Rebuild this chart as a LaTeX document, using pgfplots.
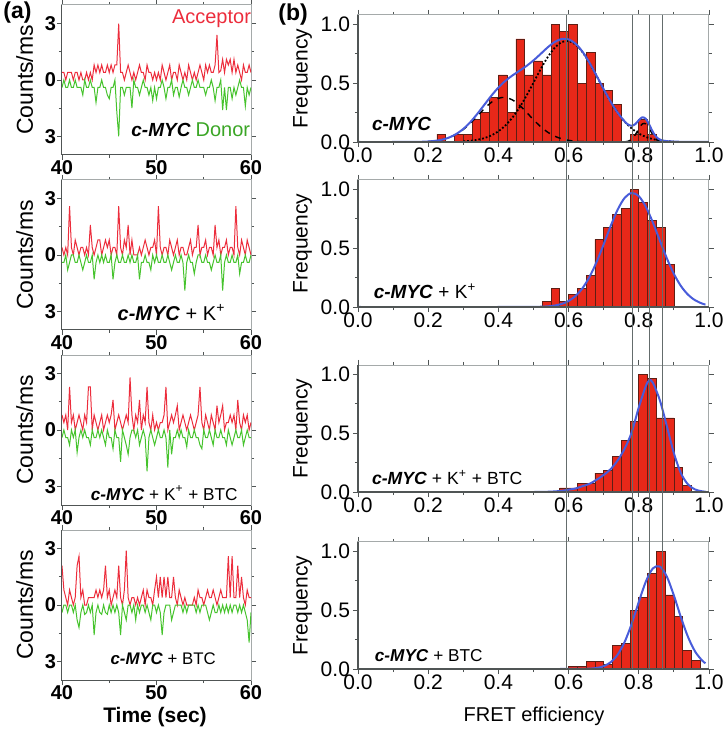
\documentclass[border=0pt]{standalone}
\usepackage{fontspec}
\setmainfont{Liberation Sans}
\usepackage{pgfplots}
\usepackage{pgfplotstable}
\pgfplotsset{compat=1.18}

\definecolor{accred}{RGB}{236,45,60}
\definecolor{dongreen}{RGB}{70,195,45}
\definecolor{barred}{RGB}{232,40,25}
\definecolor{baredge}{RGB}{95,30,20}
\definecolor{fitblue}{RGB}{72,92,218}
\definecolor{vline}{RGB}{100,108,108}
\definecolor{frame}{RGB}{165,170,170}
\definecolor{darkframe}{RGB}{80,85,85}

% time traces: a = acceptor, d = donor (counts/ms), one row every 0.2 s from 40 s
\pgfplotstableread[row sep=\\]{
a d\\
0.4 0.4\\ 0.4 0\\ 0 0.4\\ 0.4 0.4\\ 0.4 0\\ 0.4 0.4\\ 0 0.4\\ 0.4 0\\ 0.4 0.4\\ 0 0.4\\
0.4 0.4\\ 0 0.8\\ 0 0\\ 0.4 0.4\\ 0 0.4\\ 0.4 0\\ 0 0.4\\ 0.8 0.4\\ 0.4 1.2\\ 0.8 0.4\\
0.4 0.4\\ 0.8 0\\ 0.4 0.4\\ 0.4 0.4\\ 0.8 0.8\\ 0.4 1.0\\ 0.8 0.4\\ 0.4 0.4\\ 0.8 0\\ 0.8 1.7\\
3.0 3.0\\ 0.4 0.4\\ 0.4 0.4\\ 0 0.8\\ 0.4 0.4\\ 0.8 0.4\\ 0.4 0.4\\ 0 1.5\\ 0.4 0\\ 0 0.4\\
0.4 0.4\\ 0.8 0.8\\ 0.4 0.4\\ 0.4 0\\ 0 0.4\\ 0.8 0.4\\ 0.4 0.8\\ 0.4 0.4\\ 0 1.1\\ 0.4 0.4\\
0 1.0\\ 0.4 0.4\\ 0 0.4\\ 0.8 0\\ 0.4 0.4\\ 0 1.0\\ 0.4 0.4\\ 0.8 0.4\\ 0 0\\ 0.4 0.8\\
0.4 0.4\\ 0 0.4\\ 0.8 0.9\\ 0.4 0.4\\ 0 0\\ 0.4 0.4\\ 0 0.4\\ 0.8 0.8\\ 0.4 0.4\\ 0 0\\
0.4 0.4\\ 0 0.4\\ 0.4 0\\ 0.8 0.4\\ 0.4 0.4\\ 0 0.4\\ 0.8 0.8\\ 0.4 0.4\\ 0.8 0.4\\ 0.4 0\\
0.4 0.4\\ 0.8 1.1\\ 2.4 0.4\\ 0.4 0.4\\ 0.5 0\\ 1.1 1.6\\ 0.4 0.4\\ 1.1 1.6\\ 0.8 0.4\\ 1.1 0.4\\
0.4 1.0\\ 1.1 0.4\\ 0.4 0.8\\ 0.8 0.4\\ 0.4 0\\ 0 0.4\\ 0.8 0.4\\ 0.4 1.4\\ 0.4 0.4\\ 0.8 0.8\\ 0.4 0.4\\
}\trA

\pgfplotstableread[row sep=\\]{
a d\\
0.4 0.4\\ 0 0.4\\ 0.4 0\\ 0 0.8\\ 2.6 0.4\\ 0.4 0\\ 0 0\\ 0.8 0.4\\ 0.4 0.4\\ 0 0\\
0.4 0.4\\ 0.4 0.8\\ 0 0.4\\ 0.4 0\\ 0 0.4\\ 1.6 0.4\\ 0.4 0\\ 0 1.3\\ 0.4 0.4\\ 0.8 0\\
0.8 0.4\\ 0 0\\ 0.4 0.4\\ 0.8 0\\ 0.4 0.4\\ 0.8 0.4\\ 0 0\\ 0.4 1.3\\ 0.4 0.4\\ 0 0\\
2.6 0.4\\ 0.4 0.4\\ 0 0\\ 0.8 0.4\\ 0.4 0.4\\ 1.6 0\\ 0 0.4\\ 0.8 0\\ 0 0.4\\ 0 0.4\\
0 0\\ 0.4 1.3\\ 0 0.4\\ 0.4 0.4\\ 0.8 0\\ 0.4 0.4\\ 0 0.4\\ 0.4 0.8\\ 0.4 0\\ 0.8 0.4\\
0 0\\ 2.6 0.4\\ 0.4 0.4\\ 0 0\\ 0.4 0.4\\ 0.4 0.4\\ 0 0\\ 0.8 0.4\\ 0.4 0.8\\ 0 0.4\\
0.4 0\\ 0.8 0.4\\ 0 0.4\\ 0.4 0\\ 0.4 0.4\\ 0 1.9\\ 0 0.4\\ 0.4 0\\ 0.8 0.4\\ 0 0.4\\
0.4 1.0\\ 0.4 0.4\\ 1.6 0\\ 0 0\\ 0.4 0.4\\ 0.4 0.4\\ 0.8 0\\ 0 0.4\\ 0.4 0.4\\ 0.4 0.8\\
0 0.4\\ 1.6 0\\ 0.4 0.4\\ 0.8 0.4\\ 0 0\\ 0.4 1.9\\ 0.4 0.4\\ 0.8 0\\ 0 0.4\\ 0.4 0.4\\
0.4 0\\ 0 0.4\\ 2.6 0.4\\ 0.4 0\\ 0 1.0\\ 0.8 0.4\\ 0.4 0.4\\ 0 0\\ 0.8 0.4\\ 0.4 0.4\\ 0 0\\
}\trB

\pgfplotstableread[row sep=\\]{
a d\\
0.8 0.4\\ 0.4 0\\ 0.8 0.4\\ 0 0.4\\ 2.3 0.8\\ 0.4 0\\ 0.8 0.4\\ 0 0\\ 0.4 1.2\\ 0.8 0.4\\
0.4 0\\ 0 0.4\\ 0.8 0\\ 0.4 0.4\\ 2.3 0.4\\ 2.3 0.8\\ 0 0\\ 0.8 0.4\\ 0.4 0.4\\ 0 0\\
0.4 0.4\\ 0.8 0\\ 0 0.4\\ 0.4 0.8\\ 0.8 0\\ 0.4 0.4\\ 0.8 0.4\\ 1.6 1.0\\ 0 0\\ 0.4 0.4\\
0.8 0.4\\ 0.4 1.7\\ 0 0\\ 0.4 0.4\\ 0.8 0.8\\ 0.4 1.3\\ 2.8 0.4\\ 0.8 0\\ 0 0\\ 0.8 0.4\\
0.4 0\\ 1.6 0.8\\ 0 0.4\\ 0.8 0\\ 0.4 0.4\\ 2.3 2.2\\ 0.4 0.4\\ 0 0\\ 0.8 0.4\\ 0 0.8\\
0.4 0.4\\ 0 0\\ 0.4 0.4\\ 0.4 0.4\\ 0.8 0\\ 2.3 0.4\\ 0 2.0\\ 0.4 0\\ 0.8 1.3\\ 0.4 0.4\\
0.8 0.4\\ 1.3 0\\ 0 0.4\\ 0.4 0\\ 0.8 0.4\\ 0.4 0.4\\ 0 0.9\\ 0.4 0\\ 0.8 0.4\\ 0.4 0.4\\
0 0\\ 0.4 0.4\\ 0.8 0.4\\ 2.3 0.8\\ 0.4 1.0\\ 0 0\\ 0.8 0.4\\ 0.4 0.4\\ 0 0\\ 0.8 0.4\\
0.4 0.8\\ 0 0\\ 1.3 0.4\\ 0.4 0.4\\ 0.8 0\\ 1.3 0.4\\ 0 0.4\\ 0.4 0.8\\ 0.4 0\\ 0.8 0.4\\
0.4 0.8\\ 0.8 0.4\\ 0 0\\ 1.6 0.4\\ 0.4 0.4\\ 0 0\\ 0.8 0.8\\ 0.4 0.4\\ 0.8 0\\ 0 0.4\\ 0.4 0.4\\
}\trC

\pgfplotstableread[row sep=\\]{
a d\\
2.1 0.4\\ 0.8 0\\ 0.4 0\\ 0 0.4\\ 0.8 0\\ 0.4 0\\ 0 0.4\\ 0.4 0\\ 2.1 0.8\\ 2.6 1.2\\
0.4 0.4\\ 0.8 0\\ 0 0.5\\ 0 0.4\\ 0.4 0\\ 0.4 0.4\\ 0.4 0\\ 0.4 1.6\\ 0.8 0.4\\ 0.4 0\\
0.8 0.4\\ 0.4 0.5\\ 0.8 0\\ 2.1 0.4\\ 0.4 0.5\\ 0.8 0\\ 0 0.4\\ 0.4 0\\ 0.8 0.4\\ 0.4 0\\
2.1 0.4\\ 0.4 1.6\\ 0 0\\ 0.8 0.4\\ 2.9 0.8\\ 0.4 0\\ 0 0\\ 0.4 0.4\\ 0.4 0\\ 0 0.8\\
0.4 0\\ 0 0.4\\ 0.4 0\\ 0.8 0\\ 0 0.4\\ 0.8 0\\ 0.4 0.4\\ 0.4 0.8\\ 0 0\\ 0.8 0\\
1.5 0.4\\ 0.4 0\\ 1.5 0.4\\ 0.4 1.6\\ 1.5 0.4\\ 0.4 0\\ 1.5 0\\ 0.4 0\\ 0.4 0.8\\ 1.5 0.4\\
0.4 0\\ 0 0\\ 0.8 0\\ 0.4 0\\ 0 0.4\\ 0.4 0\\ 0 0.4\\ 0 0\\ 0 0\\ 0 0\\
0.4 0\\ 0 0.4\\ 0.8 0\\ 0.4 0.4\\ 0.4 0\\ 0 0\\ 0.4 0\\ 0.8 0.4\\ 0.4 0.8\\ 0.4 0.4\\
0.8 0\\ 0.4 0.4\\ 0 0.4\\ 0.4 0\\ 0.8 0.4\\ 0.4 0\\ 0.4 0.4\\ 0.4 0\\ 2.6 0.4\\ 0.4 0\\
2.6 0.4\\ 0.4 0\\ 0.4 0\\ 2.1 0.4\\ 0.4 0\\ 1.5 0.4\\ 0.4 0\\ 0 0.4\\ 0.8 0.8\\ 0.4 2.0\\ 0.4 0.4\\
}\trD

\tikzset{lbl/.style={anchor=base west, inner sep=0pt}}

\pgfplotsset{
  trace/.style={
    scale only axis, width=94.5pt, height=75pt,
    xmin=40, xmax=60, ymin=-4, ymax=4,
    xtick={40,50,60}, minor xtick={45,55},
    ytick={-3,0,3}, yticklabels={3,0,3}, minor ytick={-1.5,1.5},
    tick align=outside, major tick length=2.5pt, minor tick length=1.5pt,
    tick style={darkframe, line width=0.4pt},
    axis line style={draw=frame, line width=0.5pt},
    ticklabel style={font=\fontsize{10}{12}\selectfont\bfseries},
    xticklabel style={yshift=3.5pt},
    yticklabel style={xshift=3pt},
    /pgf/number format/assume math mode=true,
    ylabel={Counts/ms},
    ylabel style={at={(axis description cs:-0.198,0.5)}, anchor=center,
      font=\fontsize{11.5}{13}\selectfont},
    clip mode=individual,
  },
  acc/.style={accred, line width=0.5pt},
  don/.style={dongreen, line width=0.5pt},
  hist/.style={
    scale only axis, width=175.5pt, height=63.5pt,
    xmin=0, xmax=1, ymin=0, ymax=1.08,
    xtick={0,0.2,0.4,0.6,0.8,1}, minor xtick={0.1,0.3,0.5,0.7,0.9},
    ytick={0,0.5,1}, minor ytick={0.25,0.75},
    /pgf/number format/fixed, /pgf/number format/fixed zerofill,
    /pgf/number format/precision=1,
    tick align=outside, major tick length=2.5pt, minor tick length=1.5pt,
    tick style={darkframe, line width=0.4pt},
    axis line style={draw=frame, line width=0.5pt},
    ticklabel style={font=\fontsize{10.5}{12}\selectfont},
    xticklabel style={yshift=3pt},
    yticklabel style={xshift=2pt},
    /pgf/number format/assume math mode=true,
    ylabel={Frequency},
    ylabel style={at={(axis description cs:-0.158,0.5)}, anchor=center,
      font=\fontsize{10.5}{12}\selectfont},
    clip mode=individual,
  },
  bars/.style={ybar, bar width=0.025, bar shift=0pt, fill=barred, draw=baredge, line width=0.35pt},
  fit/.style={fitblue, line width=1pt, smooth},
}

\newcommand{\myc}{\textbf{\textit{c-MYC}}}

\begin{document}
\begin{tikzpicture}
\path[use as bounding box] (0pt,0pt) rectangle (362.5pt,365pt);

% ---------------- (a) time traces ----------------
\begin{axis}[trace, at={(31pt,287.5pt)}]
\addplot[acc] table[x expr=40+0.2*\coordindex, y=a]{\trA};
\addplot[don] table[x expr=40+0.2*\coordindex, y expr=-\thisrow{d}]{\trA};
\draw[darkframe, line width=0.5pt] (rel axis cs:0,1) -- (rel axis cs:0,0) -- (rel axis cs:1,0);
\node[lbl, font=\fontsize{10}{12}\selectfont, text=accred] at (axis cs:51.6,3.03) {Acceptor};
\node[lbl, font=\fontsize{10}{12}\selectfont, text=dongreen!85!black] at (axis cs:54.1,-3.0) {Donor};
\node[lbl, font=\fontsize{9.5}{11}\selectfont] at (axis cs:47.3,-3.0) {\myc};
\end{axis}

\begin{axis}[trace, at={(31pt,200pt)}]
\addplot[acc] table[x expr=40+0.2*\coordindex, y=a]{\trB};
\addplot[don] table[x expr=40+0.2*\coordindex, y expr=-\thisrow{d}]{\trB};
\draw[darkframe, line width=0.5pt] (rel axis cs:0,1) -- (rel axis cs:0,0) -- (rel axis cs:1,0);
\node[lbl, font=\fontsize{10}{12}\selectfont] at (axis cs:45.85,-3.48) {\myc{} + K\textsuperscript{+}};
\end{axis}

\begin{axis}[trace, at={(31pt,112.5pt)}]
\addplot[acc] table[x expr=40+0.2*\coordindex, y=a]{\trC};
\addplot[don] table[x expr=40+0.2*\coordindex, y expr=-\thisrow{d}]{\trC};
\draw[darkframe, line width=0.5pt] (rel axis cs:0,1) -- (rel axis cs:0,0) -- (rel axis cs:1,0);
\node[lbl, font=\fontsize{8.6}{10}\selectfont] at (axis cs:43.0,-3.75) {\myc{} + K\textsuperscript{+} + BTC};
\end{axis}

\begin{axis}[trace, at={(31pt,25pt)}]
\addplot[acc] table[x expr=40+0.2*\coordindex, y=a]{\trD};
\addplot[don] table[x expr=40+0.2*\coordindex, y expr=-\thisrow{d}]{\trD};
\draw[darkframe, line width=0.5pt] (rel axis cs:0,1) -- (rel axis cs:0,0) -- (rel axis cs:1,0);
\node[lbl, font=\fontsize{8.4}{10}\selectfont] at (axis cs:45.1,-3.19) {\myc{} + BTC};
\end{axis}

% ---------------- (b) FRET histograms ----------------
\begin{axis}[hist, at={(179pt,294pt)}]
\addplot[bars] coordinates {
  (0.2375,0.066) (0.2875,0.066) (0.3125,0.066) (0.3375,0.19) (0.3625,0.25)
  (0.3875,0.38) (0.4125,0.57) (0.4375,0.25) (0.4625,0.877) (0.4875,0.57)
  (0.5125,0.69) (0.5375,0.57) (0.5625,1.0) (0.5875,0.94) (0.6125,1.0)
  (0.6375,0.50) (0.6625,0.76) (0.6875,0.50) (0.7125,0.44) (0.7375,0.32)
  (0.7875,0.066) (0.8125,0.19) (0.8375,0.066)};
\addplot[black, dashed, line width=0.7pt, smooth] coordinates {
  (0.20,0.0044) (0.22,0.0097) (0.24,0.0198) (0.26,0.0375) (0.28,0.0655)
  (0.30,0.1061) (0.32,0.1591) (0.34,0.2209) (0.36,0.2838) (0.38,0.3376)
  (0.40,0.3718) (0.42,0.3791) (0.44,0.3578) (0.46,0.3126) (0.48,0.2528)
  (0.50,0.1893) (0.52,0.1312) (0.54,0.0842) (0.56,0.0500) (0.58,0.0275)
  (0.60,0.0140) (0.62,0.0066) (0.64,0.0029) (0.66,0.0012)};
\addplot[black, densely dotted, line width=0.9pt, smooth] coordinates {
  (0.30,0.0050) (0.32,0.0099) (0.34,0.0185) (0.36,0.0330) (0.38,0.0561)
  (0.40,0.0910) (0.42,0.1409) (0.44,0.2081) (0.46,0.2931) (0.48,0.3938)
  (0.50,0.5047) (0.52,0.6169) (0.54,0.7193) (0.56,0.8000) (0.58,0.8487)
  (0.60,0.8587) (0.62,0.8289) (0.64,0.7631) (0.66,0.6700) (0.68,0.5612)
  (0.70,0.4484) (0.72,0.3418) (0.74,0.2484) (0.76,0.1722) (0.78,0.1139)
  (0.80,0.0719) (0.82,0.0433) (0.84,0.0248) (0.86,0.0136) (0.88,0.0071)
  (0.90,0.0035)};
\addplot[black, dashed, line width=0.7pt, smooth] coordinates {
  (0.76,0.0015) (0.77,0.0070) (0.78,0.0242) (0.79,0.0610) (0.80,0.1131)
  (0.81,0.1539) (0.82,0.1539) (0.83,0.1131) (0.84,0.0610) (0.85,0.0242)
  (0.86,0.0070) (0.87,0.0015)};
\addplot[fit] coordinates {
  (0,0) (0.10,0) (0.16,0.0007) (0.18,0.0018) (0.20,0.0045) (0.22,0.0099)
  (0.24,0.0203) (0.26,0.0386) (0.28,0.0680) (0.30,0.1111) (0.32,0.1690)
  (0.34,0.2394) (0.36,0.3168) (0.38,0.3937) (0.40,0.4628) (0.42,0.5200)
  (0.44,0.5659) (0.46,0.6057) (0.48,0.6466) (0.50,0.6940) (0.52,0.7481)
  (0.54,0.8035) (0.56,0.8500) (0.58,0.8762) (0.60,0.8727) (0.62,0.8355)
  (0.64,0.7660) (0.66,0.6712) (0.68,0.5617) (0.70,0.4484) (0.72,0.3418)
  (0.74,0.2484) (0.76,0.1737) (0.77,0.1479) (0.78,0.1381) (0.79,0.1520)
  (0.80,0.1850) (0.81,0.2100) (0.82,0.1972) (0.83,0.1461) (0.84,0.0858)
  (0.85,0.0427) (0.86,0.0206) (0.87,0.0114) (0.88,0.0071) (0.90,0.0035)
  (0.92,0.0017) (0.96,0.0003) (1.0,0)};
\draw[darkframe, line width=0.6pt] (rel axis cs:0,1) -- (rel axis cs:0,0) -- (rel axis cs:1,0);
\node[lbl, font=\fontsize{9.5}{11}\selectfont] at (axis cs:0.039,0.097) {\myc};
\coordinate (v1t) at (axis cs:0.593,1.08);
\coordinate (v2t) at (axis cs:0.782,1.08);
\coordinate (v3t) at (axis cs:0.831,1.08);
\coordinate (v4t) at (axis cs:0.868,1.08);
\end{axis}

\begin{axis}[hist, at={(179pt,211.5pt)}]
\addplot[bars] coordinates {
  (0.5375,0.05) (0.5625,0.156) (0.5875,0.05) (0.6125,0.105) (0.6375,0.156)
  (0.6625,0.265) (0.6875,0.575) (0.7125,0.68) (0.7375,0.785) (0.7625,0.84)
  (0.7875,1.0) (0.8125,0.89) (0.8375,0.737) (0.8625,0.68) (0.8875,0.365)};
\addplot[fit] coordinates {
  (0,0) (0.40,0) (0.48,0.0003) (0.50,0.0008) (0.52,0.0022) (0.54,0.0053)
  (0.56,0.0121) (0.58,0.0258) (0.60,0.0511) (0.62,0.0941) (0.64,0.1616)
  (0.66,0.2583) (0.68,0.3847) (0.70,0.5336) (0.72,0.6893) (0.74,0.8293)
  (0.76,0.9292) (0.78,0.9696) (0.80,0.9425) (0.82,0.8531) (0.84,0.7193)
  (0.86,0.5648) (0.88,0.4131) (0.90,0.2814) (0.92,0.1785) (0.94,0.1054)
  (0.96,0.0580) (0.98,0.0297) (0.99,0.0210)};
\draw[darkframe, line width=0.6pt] (rel axis cs:0,1) -- (rel axis cs:0,0) -- (rel axis cs:1,0);
\node[lbl, font=\fontsize{9.5}{11}\selectfont] at (axis cs:0.044,0.071) {\myc{} + K\textsuperscript{+}};
\end{axis}

\begin{axis}[hist, at={(179pt,119pt)}]
\addplot[bars] coordinates {
  (0.5875,0.035) (0.6125,0.035) (0.6375,0.07) (0.6625,0.07) (0.6875,0.16)
  (0.7125,0.18) (0.7375,0.30) (0.7625,0.44) (0.7875,0.60) (0.8125,1.0)
  (0.8375,0.965) (0.8625,0.63) (0.8875,0.63) (0.9125,0.21) (0.9375,0.058)};
\addplot[fit] coordinates {
  (0,0) (0.50,0) (0.54,0.002) (0.56,0.005) (0.58,0.010) (0.60,0.020)
  (0.62,0.030) (0.64,0.050) (0.66,0.070) (0.68,0.105) (0.70,0.145)
  (0.72,0.195) (0.74,0.270) (0.76,0.370) (0.78,0.510) (0.80,0.720)
  (0.82,0.900) (0.83,0.950) (0.84,0.930) (0.86,0.780) (0.88,0.560)
  (0.90,0.330) (0.92,0.160) (0.94,0.065) (0.96,0.022) (0.98,0.006) (0.99,0.003)};
\draw[darkframe, line width=0.6pt] (rel axis cs:0,1) -- (rel axis cs:0,0) -- (rel axis cs:1,0);
\node[lbl, font=\fontsize{8.8}{10}\selectfont] at (axis cs:0.039,0.06) {\myc{} + K\textsuperscript{+} + BTC};
\end{axis}

\begin{axis}[hist, at={(179pt,30.5pt)}]
\addplot[bars] coordinates {
  (0.6125,0.023) (0.6375,0.023) (0.6625,0.062) (0.6875,0.062) (0.7125,0.037)
  (0.7375,0.198) (0.7625,0.22) (0.7875,0.50) (0.8125,0.61) (0.8375,0.81)
  (0.8625,1.0) (0.8875,0.63) (0.9125,0.45) (0.9375,0.16) (0.9625,0.074)};
\addplot[fit] coordinates {
  (0,0) (0.56,0) (0.62,0.0002) (0.64,0.0008) (0.66,0.0028) (0.68,0.0088)
  (0.70,0.0240) (0.72,0.0578) (0.74,0.1231) (0.76,0.2321) (0.78,0.3868)
  (0.80,0.5699) (0.82,0.7426) (0.84,0.8554) (0.86,0.8714) (0.88,0.7849)
  (0.90,0.6250) (0.92,0.4401) (0.94,0.2740) (0.96,0.1508) (0.98,0.0734) (0.99,0.0489)};
\draw[darkframe, line width=0.6pt] (rel axis cs:0,1) -- (rel axis cs:0,0) -- (rel axis cs:1,0);
\node[lbl, font=\fontsize{8.6}{10}\selectfont] at (axis cs:0.047,0.062) {\myc{} + BTC};
\coordinate (v1b) at (axis cs:0.593,0);
\coordinate (v2b) at (axis cs:0.782,0);
\coordinate (v3b) at (axis cs:0.831,0);
\coordinate (v4b) at (axis cs:0.868,0);
\end{axis}

% guide lines at the peak positions, across all four histograms
\draw[vline, line width=0.6pt] (v1t) -- (v1b);
\draw[vline, line width=0.6pt] (v2t) -- (v2b);
\draw[vline, line width=0.6pt] (v3t) -- (v3b);
\draw[vline, line width=0.6pt] (v4t) -- (v4b);

% panel letters and shared axis titles
\node[lbl, font=\fontsize{11.5}{13}\selectfont\bfseries] at (1.5pt,355.5pt) {(a)};
\node[lbl, font=\fontsize{11.5}{13}\selectfont\bfseries] at (139pt,354.5pt) {(b)};
\node[anchor=base, inner sep=0pt, font=\fontsize{10.5}{12}\selectfont\bfseries] at (77.5pt,4pt) {Time (sec)};
\node[anchor=base, inner sep=0pt, font=\fontsize{10}{12}\selectfont] at (267pt,4.2pt) {FRET efficiency};
\end{tikzpicture}
\end{document}
